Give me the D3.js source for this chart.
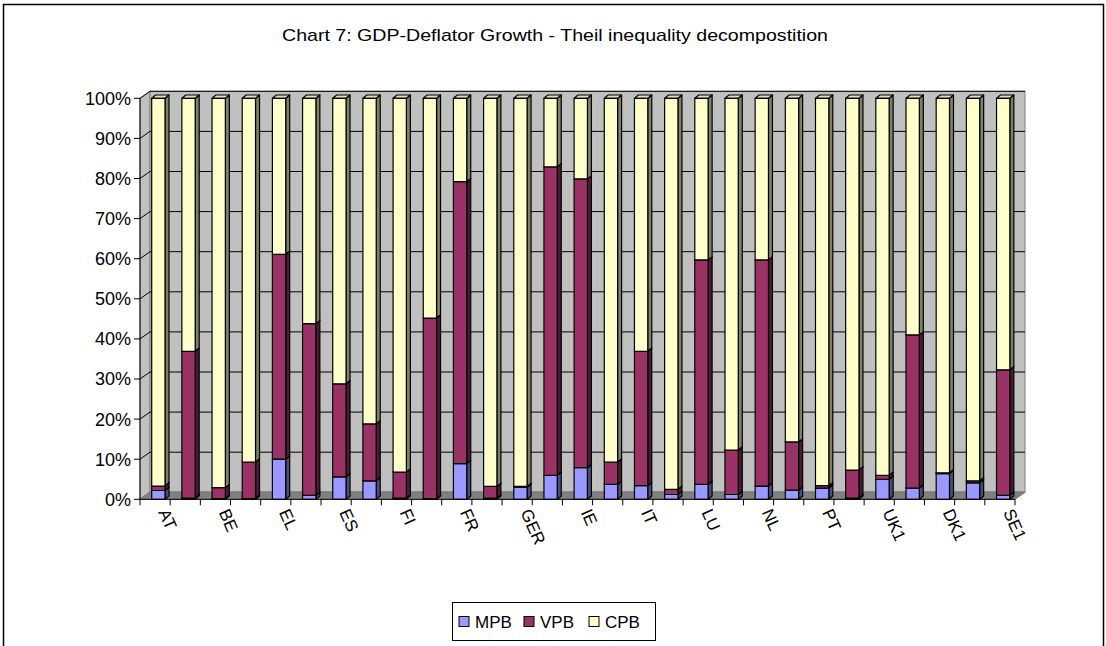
<!DOCTYPE html>
<html>
<head>
<meta charset="utf-8">
<script src="https://cdn.jsdelivr.net/npm/d3@7"></script>
<style>
  body { margin: 0; background: white; }
  text { font-family: Arial, "Liberation Sans", sans-serif; fill: #000; }
</style>
</head>
<body>
<div id="chart"></div>
<script>
// categories (only every other one is labelled in the original)
const categories = ["AT","","BE","","EL","","ES","","FI","","FR","","GER","","IE","","IT","","LU","","NL","","PT","","UK1","","DK1","","SE1"];
const seriesNames = ["MPB", "VPB", "CPB"];
const mpb = [2.2,0.3,0.2,0.2,10.0,1.0,5.6,4.6,0.3,0.2,8.9,0.3,3.0,6.0,7.9,3.7,3.4,1.2,3.7,1.2,3.3,2.3,2.8,0.3,5.0,2.8,6.4,4.1,1.0];
const vpb = [1.1,36.6,2.7,9.1,51.1,42.8,23.2,14.2,6.5,45.0,70.3,2.9,0.2,76.9,72.0,5.6,33.5,1.3,56.0,11.1,56.4,12.0,0.6,7.0,1.0,38.2,0.2,0.5,31.3];
const cpb = [96.7,63.1,97.1,90.7,38.9,56.2,71.2,81.2,93.2,54.8,20.8,96.8,96.8,17.1,20.1,90.7,63.1,97.5,40.3,87.7,40.3,85.7,96.6,92.7,94.0,59.0,93.4,95.4,67.7];
const yTicks = [0, 0.1, 0.2, 0.3, 0.4, 0.5, 0.6, 0.7, 0.8, 0.9, 1];

const colors = { MPB: "#9999FF", VPB: "#993366", CPB: "#FFFFCC" };
const sideColors = { MPB: "#4C4C80", VPB: "#4D1A33", CPB: "#808066" };
const topColors = { MPB: "#8080D9", VPB: "#822B57", CPB: "#E0E0B3" };

const W = 1106, H = 646;
const plotLeft = 140, plotRight = 1015, plotBottom = 499.3, plotTop = 98.3;
const wallDx = 10, wallDy = -7;     // depth of the 3d walls
const barDx = 4, barDy = -3.3;       // depth of each bar

const rows = categories.map((c, i) => ({ i: i, cat: c, MPB: mpb[i], VPB: vpb[i], CPB: cpb[i] }));
const stacked = d3.stack().keys(seriesNames).offset(d3.stackOffsetExpand)(rows);

const svg = d3.select("#chart").append("svg")
  .attr("width", W)
  .attr("height", H);

svg.append("rect").attr("width", W).attr("height", H).attr("fill", "white");
svg.append("rect")
  .attr("x", 3.5).attr("y", 4.5).attr("width", 1100).attr("height", 680)
  .attr("fill", "none").attr("stroke", "#000").attr("stroke-width", 1.5);

svg.append("text")
  .attr("x", 555).attr("y", 41)
  .attr("text-anchor", "middle")
  .attr("font-size", 17)
  .attr("textLength", 546)
  .attr("lengthAdjust", "spacingAndGlyphs")
  .text("Chart 7: GDP-Deflator Growth - Theil inequality decompostition");

const x = d3.scaleBand().domain(d3.range(categories.length)).range([plotLeft, plotRight]);
const y = d3.scaleLinear().domain([0, 1]).range([plotBottom, plotTop]);

// walls
const yb = y(0), yt = y(1);
svg.append("polygon")
  .attr("points", [[plotLeft, yb], [plotLeft + wallDx, yb + wallDy], [plotLeft + wallDx, yt + wallDy], [plotLeft, yt]].join(" "))
  .attr("fill", "#C0C0C0").attr("stroke", "#808080");
svg.append("rect")
  .attr("x", plotLeft + wallDx).attr("y", yt + wallDy)
  .attr("width", plotRight - plotLeft).attr("height", yb - yt)
  .attr("fill", "#C0C0C0").attr("stroke", "#808080");

// gridlines
const grid = svg.append("g");
yTicks.forEach(t => {
  grid.append("polyline")
    .attr("points", [[plotLeft, y(t)], [plotLeft + wallDx, y(t) + wallDy], [plotRight + wallDx, y(t) + wallDy]].join(" "))
    .attr("fill", "none").attr("stroke", "#000").attr("stroke-width", 1);
});

// floor
svg.append("polygon")
  .attr("points", [[plotLeft, yb], [plotRight, yb], [plotRight + wallDx, yb + wallDy], [plotLeft + wallDx, yb + wallDy]].join(" "))
  .attr("fill", "#808080").attr("stroke", "#808080");

// bars
const bw = 13.3;
const barOff = 11.7;
const bars = svg.append("g");
rows.forEach((r, i) => {
  const x0 = x(i) + barOff;
  stacked.forEach(s => {
    const d = s[i];
    const y0 = y(d[0]), y1 = y(d[1]);
    const g = bars.append("g")
      .attr("stroke", "#000").attr("stroke-width", 1.2).attr("stroke-linejoin", "round");
    g.append("polygon")
      .attr("points", [[x0 + bw, y1], [x0 + bw + barDx, y1 + barDy], [x0 + bw + barDx, y0 + barDy], [x0 + bw, y0]].join(" "))
      .attr("fill", sideColors[s.key]);
    g.append("polygon")
      .attr("points", [[x0, y1], [x0 + barDx, y1 + barDy], [x0 + bw + barDx, y1 + barDy], [x0 + bw, y1]].join(" "))
      .attr("fill", topColors[s.key]);
    g.append("rect")
      .attr("x", x0).attr("y", y1).attr("width", bw).attr("height", y0 - y1)
      .attr("fill", colors[s.key]);
  });
});

// y axis
const yAxis = svg.append("g");
yAxis.append("line").attr("x1", plotLeft).attr("x2", plotLeft).attr("y1", yt).attr("y2", yb)
  .attr("stroke", "#000");
yTicks.forEach(t => {
  yAxis.append("line").attr("x1", plotLeft - 6).attr("x2", plotLeft).attr("y1", y(t)).attr("y2", y(t))
    .attr("stroke", "#000");
  yAxis.append("text")
    .attr("x", 131).attr("y", y(t))
    .attr("dy", "0.36em")
    .attr("text-anchor", "end")
    .attr("font-size", 18)
    .text(d3.format(".0%")(t));
});

// x axis
const xAxis = svg.append("g");
xAxis.append("line").attr("x1", plotLeft).attr("x2", plotRight).attr("y1", yb).attr("y2", yb)
  .attr("stroke", "#000");
xAxis.append("line").attr("x1", plotRight).attr("x2", plotRight + wallDx).attr("y1", yb).attr("y2", yb + wallDy)
  .attr("stroke", "#808080");
d3.range(categories.length + 1).forEach(k => {
  const tx = plotLeft + k * x.bandwidth();
  xAxis.append("line").attr("x1", tx).attr("x2", tx).attr("y1", yb).attr("y2", yb + 6)
    .attr("stroke", "#000");
});
categories.forEach((c, i) => {
  if (!c) return;
  const cx = x(i) + x.bandwidth() / 2;
  xAxis.append("text")
    .attr("transform", `translate(${cx + 3},${yb + 13}) rotate(66)`)
    .attr("text-anchor", "start")
    .attr("font-size", 17)
    .text(c);
});

// legend
const legend = svg.append("g");
legend.append("rect")
  .attr("x", 452.5).attr("y", 602.5).attr("width", 203).attr("height", 38)
  .attr("fill", "white").attr("stroke", "#000");
seriesNames.forEach((n, k) => {
  const lx = 459 + k * 65;
  legend.append("rect")
    .attr("x", lx).attr("y", 616.5).attr("width", 10).attr("height", 10)
    .attr("fill", colors[n]).attr("stroke", "#000");
  legend.append("text")
    .attr("x", lx + 16).attr("y", 622)
    .attr("dy", "0.36em")
    .attr("font-size", 17)
    .text(n);
});
</script>
</body>
</html>
